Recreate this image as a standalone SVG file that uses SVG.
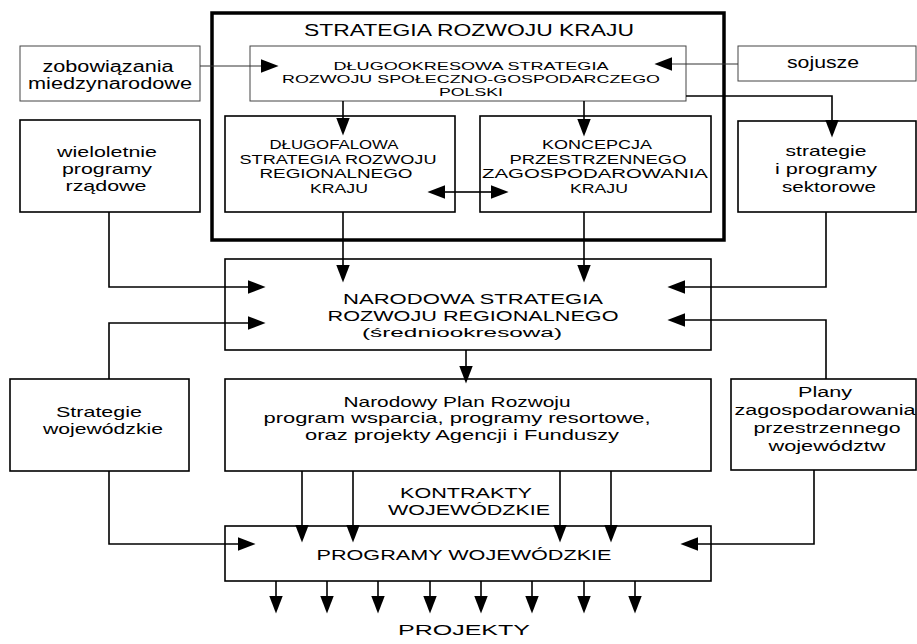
<svg xmlns="http://www.w3.org/2000/svg" width="917" height="644" viewBox="0 0 917 644">
<style>
.bx{fill:#fff;stroke:#000;stroke-width:1.6}
.th{fill:#fff;stroke:#444;stroke-width:1}
.outer{fill:none;stroke:#000;stroke-width:3.5}
.t{font-family:"Liberation Sans",Arial,sans-serif;fill:#000;text-anchor:middle}
.c{fill:none;stroke:#000;stroke-width:1.6}
.cl{fill:none;stroke:#333;stroke-width:1}
</style>
<defs>
<marker id="ah" markerUnits="userSpaceOnUse" markerWidth="18" markerHeight="14" viewBox="0 0 17 13" refX="7" refY="6.5" orient="auto">
<path d="M0,0 L17,6.5 L0,13 z" fill="#000"/>
</marker>
</defs>
<rect width="917" height="644" fill="#fff"/>

<g id="strategia-rozwoju-kraju">
<rect class="outer" x="212" y="13" width="512" height="227"/>
<text class="t" x="469" y="36" font-size="16" textLength="330" lengthAdjust="spacingAndGlyphs">STRATEGIA ROZWOJU KRAJU</text>
</g>

<g id="dlugookresowa">
<rect class="th" x="250" y="46" width="436" height="55"/>
<text class="t" x="471" y="70" font-size="11.5" textLength="275" lengthAdjust="spacingAndGlyphs">DŁUGOOKRESOWA STRATEGIA</text>
<text class="t" x="471" y="83" font-size="11.5" textLength="378" lengthAdjust="spacingAndGlyphs">ROZWOJU SPOŁECZNO-GOSPODARCZEGO</text>
<text class="t" x="471" y="96" font-size="11.5" textLength="64" lengthAdjust="spacingAndGlyphs">POLSKI</text>
</g>

<g id="zobowiazania">
<rect class="th" x="20" y="46" width="180" height="55"/>
<text class="t" x="108" y="72" font-size="16" textLength="131" lengthAdjust="spacingAndGlyphs">zobowiązania</text>
<text class="t" x="110" y="89" font-size="16" textLength="164" lengthAdjust="spacingAndGlyphs">miedzynarodowe</text>
</g>

<g id="sojusze">
<rect class="th" x="738" y="46" width="178" height="35"/>
<text class="t" x="823" y="68" font-size="16" textLength="72" lengthAdjust="spacingAndGlyphs">sojusze</text>
</g>

<g id="wieloletnie">
<rect class="bx" x="20" y="120" width="180" height="92"/>
<text class="t" x="107" y="157" font-size="15" textLength="100" lengthAdjust="spacingAndGlyphs">wieloletnie</text>
<text class="t" x="107" y="174" font-size="15" textLength="90" lengthAdjust="spacingAndGlyphs">programy</text>
<text class="t" x="106" y="191" font-size="15" textLength="81" lengthAdjust="spacingAndGlyphs">rządowe</text>
</g>

<g id="dlugofalowa">
<rect class="bx" x="225" y="116" width="230" height="96"/>
<text class="t" x="334" y="149" font-size="12.5" textLength="129" lengthAdjust="spacingAndGlyphs">DŁUGOFALOWA</text>
<text class="t" x="338" y="163.5" font-size="12.5" textLength="197" lengthAdjust="spacingAndGlyphs">STRATEGIA ROZWOJU</text>
<text class="t" x="336" y="178" font-size="12.5" textLength="153" lengthAdjust="spacingAndGlyphs">REGIONALNEGO</text>
<text class="t" x="339" y="192.5" font-size="12.5" textLength="58" lengthAdjust="spacingAndGlyphs">KRAJU</text>
</g>

<g id="koncepcja">
<rect class="bx" x="480" y="116" width="231" height="96"/>
<text class="t" x="597" y="149" font-size="12.5" textLength="110" lengthAdjust="spacingAndGlyphs">KONCEPCJA</text>
<text class="t" x="598" y="163.5" font-size="12.5" textLength="177" lengthAdjust="spacingAndGlyphs">PRZESTRZENNEGO</text>
<text class="t" x="595" y="178" font-size="12.5" textLength="226" lengthAdjust="spacingAndGlyphs">ZAGOSPODAROWANIA</text>
<text class="t" x="599" y="192.5" font-size="12.5" textLength="58" lengthAdjust="spacingAndGlyphs">KRAJU</text>
</g>

<g id="strategie-sektorowe">
<rect class="bx" x="738" y="121" width="178" height="91"/>
<text class="t" x="826" y="156" font-size="15" textLength="81" lengthAdjust="spacingAndGlyphs">strategie</text>
<text class="t" x="826" y="174" font-size="15" textLength="102" lengthAdjust="spacingAndGlyphs">i programy</text>
<text class="t" x="829" y="192" font-size="15" textLength="94" lengthAdjust="spacingAndGlyphs">sektorowe</text>
</g>

<g id="narodowa-strategia">
<rect class="bx" x="225" y="259" width="486" height="91"/>
<text class="t" x="473" y="304" font-size="14" textLength="260" lengthAdjust="spacingAndGlyphs">NARODOWA STRATEGIA</text>
<text class="t" x="473" y="321" font-size="14" textLength="291" lengthAdjust="spacingAndGlyphs">ROZWOJU REGIONALNEGO</text>
<text class="t" x="462" y="337" font-size="12" textLength="200" lengthAdjust="spacingAndGlyphs">(średniookresowa)</text>
</g>

<g id="narodowy-plan">
<rect class="bx" x="225" y="379" width="486" height="92"/>
<text class="t" x="457" y="407" font-size="15" textLength="227" lengthAdjust="spacingAndGlyphs">Narodowy Plan Rozwoju</text>
<text class="t" x="457" y="423" font-size="15" textLength="387" lengthAdjust="spacingAndGlyphs">program wsparcia,  programy resortowe,</text>
<text class="t" x="462" y="440" font-size="15" textLength="314" lengthAdjust="spacingAndGlyphs">oraz projekty Agencji i Funduszy</text>
</g>

<g id="strategie-wojewodzkie">
<rect class="bx" x="10" y="379" width="179" height="92"/>
<text class="t" x="99" y="417" font-size="15" textLength="86" lengthAdjust="spacingAndGlyphs">Strategie</text>
<text class="t" x="103" y="434" font-size="15" textLength="120" lengthAdjust="spacingAndGlyphs">wojewódzkie</text>
</g>

<g id="plany">
<rect class="bx" x="731" y="379" width="185" height="91"/>
<text class="t" x="825" y="397" font-size="15.5" textLength="54" lengthAdjust="spacingAndGlyphs">Plany</text>
<text class="t" x="825" y="415" font-size="15.5" textLength="181" lengthAdjust="spacingAndGlyphs">zagospodarowania</text>
<text class="t" x="827" y="433" font-size="15.5" textLength="147" lengthAdjust="spacingAndGlyphs">przestrzennego</text>
<text class="t" x="827" y="451" font-size="15.5" textLength="117" lengthAdjust="spacingAndGlyphs">województw</text>
</g>

<g id="kontrakty">
<text class="t" x="466" y="498" font-size="14.5" textLength="132" lengthAdjust="spacingAndGlyphs">KONTRAKTY</text>
<text class="t" x="469" y="515" font-size="14.5" textLength="162" lengthAdjust="spacingAndGlyphs">WOJEWÓDZKIE</text>
</g>

<g id="programy-wojewodzkie">
<rect class="bx" x="225" y="526" width="486" height="55"/>
<text class="t" x="464" y="560" font-size="15" textLength="295" lengthAdjust="spacingAndGlyphs">PROGRAMY WOJEWÓDZKIE</text>
</g>

<g id="projekty">
<text class="t" x="464" y="635" font-size="15" textLength="132" lengthAdjust="spacingAndGlyphs">PROJEKTY</text>
</g>

<g id="connectors">
<path class="cl" d="M200,66 H268" marker-end="url(#ah)"/>
<path class="cl" d="M738,64 H665" marker-end="url(#ah)"/>
<path class="c" d="M343,101 V125" marker-end="url(#ah)"/>
<path class="c" d="M584,101 V126" marker-end="url(#ah)"/>
<path class="c" d="M686,96 H832 V127" marker-end="url(#ah)"/>
<path class="c" d="M468,192 H438" marker-end="url(#ah)"/>
<path class="c" d="M468,192 H498" marker-end="url(#ah)"/>
<path class="c" d="M343,212 V272" marker-end="url(#ah)"/>
<path class="c" d="M584,212 V272" marker-end="url(#ah)"/>
<path class="c" d="M109,212 V287 H255" marker-end="url(#ah)"/>
<path class="c" d="M826,212 V287 H678" marker-end="url(#ah)"/>
<path class="c" d="M109,379 V323 H255" marker-end="url(#ah)"/>
<path class="c" d="M826,379 V320 H678" marker-end="url(#ah)"/>
<path class="c" d="M466,350 V373" marker-end="url(#ah)"/>
<path class="c" d="M302,471 V532" marker-end="url(#ah)"/>
<path class="c" d="M353,471 V532" marker-end="url(#ah)"/>
<path class="c" d="M560,471 V532" marker-end="url(#ah)"/>
<path class="c" d="M611,471 V532" marker-end="url(#ah)"/>
<path class="c" d="M109,471 V544 H245" marker-end="url(#ah)"/>
<path class="c" d="M814,470 V544 H691" marker-end="url(#ah)"/>
<path class="c" d="M276,581 V603" marker-end="url(#ah)"/>
<path class="c" d="M327,581 V603" marker-end="url(#ah)"/>
<path class="c" d="M378,581 V603" marker-end="url(#ah)"/>
<path class="c" d="M430,581 V603" marker-end="url(#ah)"/>
<path class="c" d="M481,581 V603" marker-end="url(#ah)"/>
<path class="c" d="M532,581 V603" marker-end="url(#ah)"/>
<path class="c" d="M584,581 V603" marker-end="url(#ah)"/>
<path class="c" d="M635,581 V603" marker-end="url(#ah)"/>
</g>
</svg>
